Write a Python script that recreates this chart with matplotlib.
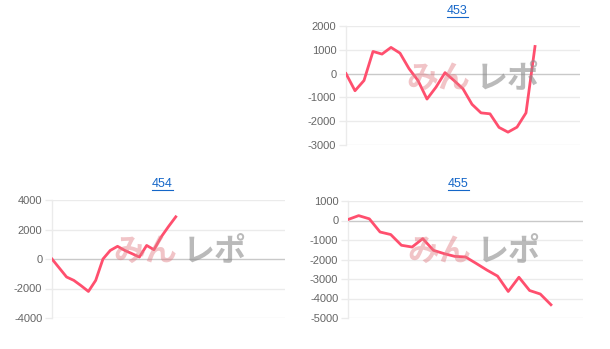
import matplotlib
matplotlib.use("Agg")
import matplotlib.pyplot as plt
from matplotlib.lines import Line2D

plt.rcParams['font.family'] = ['Liberation Sans', 'DejaVu Sans']

# panel names
titles = ["453", "454", "455"]

# series values
vals_453 = [0, -720, -290, 930, 820, 1100, 860, 210, -290, -1070, -570, 40, -290, -640,
            -1290, -1650, -1690, -2260, -2460, -2250, -1650, 1140]
vals_454 = [0, -610, -1220, -1450, -1810, -2200, -1450, 0, 580, 860, 580, 360, 130, 920,
            630, 1500, 2200, 2860]
vals_455 = [50, 250, 85, -590, -720, -1270, -1360, -930, -1530, -1700, -1840, -1870,
            -2200, -2540, -2850, -3640, -2910, -3590, -3770, -4320]

# number of category slots on the x axis
slots = [27, 33, 23]
# y ticks
yticks_453 = [-3000, -2000, -1000, 0, 1000, 2000]
yticks_454 = [-4000, -2000, 0, 2000, 4000]
yticks_455 = [-5000, -4000, -3000, -2000, -1000, 0, 1000]

W, H = 610, 349
line_col = '#ff4f6e'
grid_col = '#ebebeb'
zero_col = '#c9c9c9'
title_col = '#1466c8'

fig = plt.figure(figsize=(W / 100, H / 100), dpi=100)


def px_axes(l, t, r, b):
    return fig.add_axes([l / W, 1 - b / H, (r - l) / W, (b - t) / H])


def draw_panel(ax, vals, n, ticks, title, tx, ty, wm):
    ax.plot(range(len(vals)), vals, color=line_col, lw=2.0, solid_joinstyle='round',
            zorder=4)
    ax.set_xlim(0, n - 1)
    ax.set_ylim(ticks[0], ticks[-1])
    ax.set_yticks(ticks)
    ax.set_yticklabels([str(t) for t in ticks])
    ax.set_xticks([])
    for t in ticks:
        ax.axhline(t, color=zero_col if t == 0 else grid_col, lw=1.0, zorder=1)
    for s in ['top', 'right', 'bottom']:
        ax.spines[s].set_visible(False)
    ax.spines['left'].set_color(grid_col)
    ax.spines['left'].set_linewidth(1.0)
    ax.tick_params(axis='y', length=5, width=1.0, color=grid_col, pad=2,
                   labelsize=8, labelcolor='#666666')
    ax.patch.set_alpha(0)
    # title as a link
    fig.text(tx / W, 1 - ty / H, title, ha='center', va='center', fontsize=9,
             color=title_col)
    fig.add_artist(Line2D([(tx - 10.5) / W, (tx + 10.5) / W],
                          [1 - (ty + 5.5) / H, 1 - (ty + 5.5) / H],
                          color=title_col, lw=0.8))
    # watermark
    wx, wy = wm
    fig.text((wx - 3) / W, 1 - wy / H, "みん", ha='right', va='center', fontsize=23,
             fontweight='bold', color='#e07c84', alpha=0.45,
             family=['Noto Sans CJK JP'], zorder=0)
    fig.text((wx + 3) / W, 1 - wy / H, "レポ", ha='left', va='center', fontsize=23,
             fontweight='bold', color='#8c8c8c', alpha=0.6,
             family=['Noto Sans CJK JP'], zorder=0)


ax1 = px_axes(346, 26, 580, 145)
draw_panel(ax1, vals_453, slots[0], yticks_453, titles[0], 457, 11, (473, 79))
ax2 = px_axes(52, 200, 285, 318)
draw_panel(ax2, vals_454, slots[1], yticks_454, titles[1], 162, 184, (180, 252))
ax3 = px_axes(348, 201, 583, 318)
draw_panel(ax3, vals_455, slots[2], yticks_455, titles[2], 458, 184, (474, 252))

fig.savefig('out.png', dpi=100)
